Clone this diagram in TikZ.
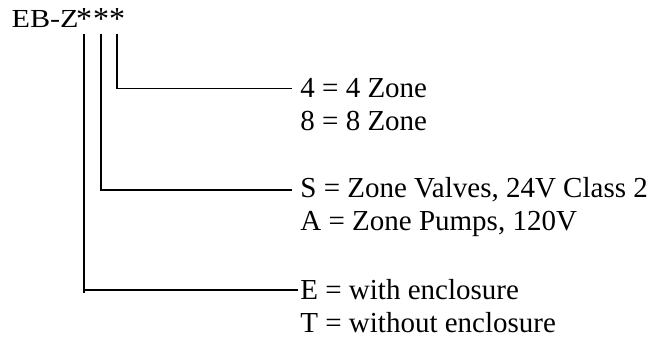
\documentclass[tikz,border=0pt]{standalone}
\usepackage{fontspec}
\setmainfont{Liberation Serif}
\usetikzlibrary{positioning}

\tikzset{
  code/.style={font=\fontsize{13}{15}\selectfont, inner xsep=0pt, inner ysep=2pt},
  wild/.style={code, font=\fontsize{16}{18}\selectfont, anchor=base},
  opt/.style={font=\fontsize{14.5}{16}\selectfont, inner xsep=4pt, inner ysep=0pt, anchor=base west},
  lead/.style={line width=0.85pt}
}

\begin{document}
\begin{tikzpicture}[x=0.5pt, y=-0.5pt]
\useasboundingbox (0,0) rectangle (660,341);

% model code
\node[code, anchor=base east] (model) at (79,28) {\scalebox{1.16}[1]{EB-Z}};
\node[wild] (enc) at (84,30) {*};
\node[wild] (pwr) at (101,30) {*};
\node[wild] (zon) at (117,30) {*};

% options
\node[opt] (z4) at (292,98) {4 = 4 Zone};
\node[opt] (z8) at (292,131) {8 = 8 Zone};
\node[opt] (sv) at (292,198) {S = Zone Valves, 24V Class 2};
\node[opt] (ap) at (292,231) {A = Zone Pumps, 120V};
\node[opt, inner xsep=1pt] (we) at (298,300) {E = with enclosure};
\node[opt] (wo) at (292,333) {T = without enclosure};

% leaders
\draw[lead] (zon.south) |- (z4.west);
\draw[lead] (pwr.south) |- (sv.west);
\draw[lead] (enc.south) -- ++(0,259) (enc.south) |- (we.west);
\end{tikzpicture}
\end{document}
